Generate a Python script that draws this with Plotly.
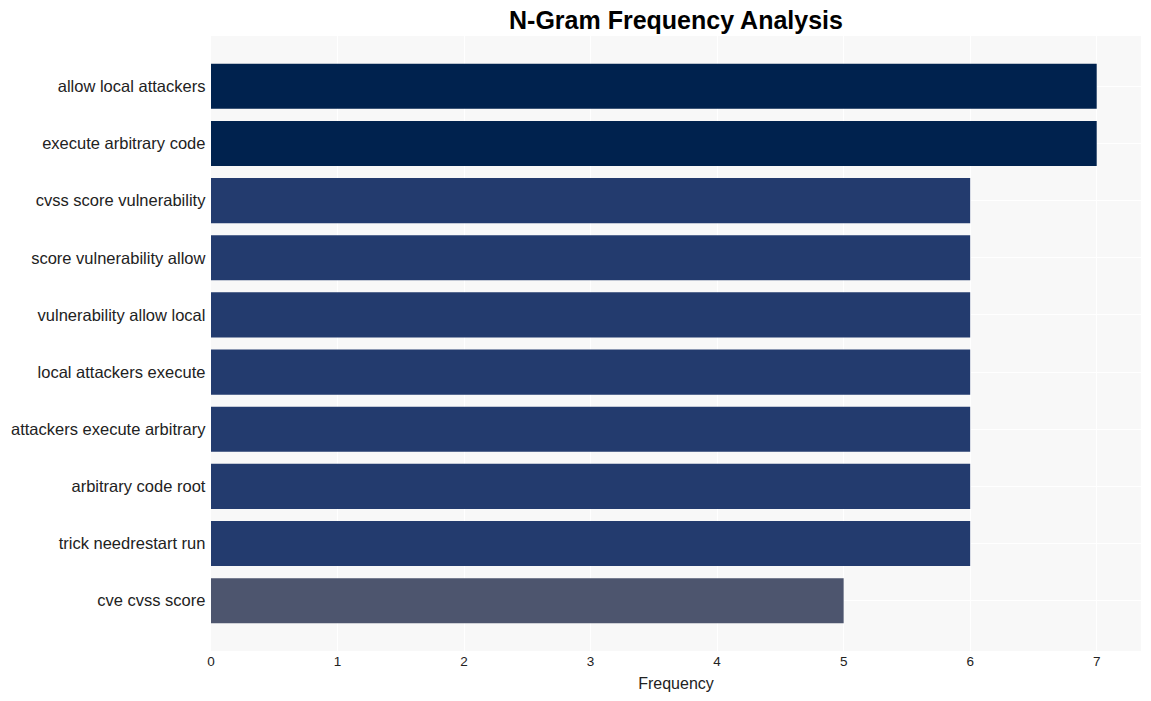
import plotly.graph_objects as go

ngrams = [
    "allow local attackers",
    "execute arbitrary code",
    "cvss score vulnerability",
    "score vulnerability allow",
    "vulnerability allow local",
    "local attackers execute",
    "attackers execute arbitrary",
    "arbitrary code root",
    "trick needrestart run",
    "cve cvss score",
]
frequency = [7, 7, 6, 6, 6, 6, 6, 6, 6, 5]
color_by_value = {7: "#00224e", 6: "#233b6e", 5: "#4d556e"}
colors = [color_by_value[v] for v in frequency]

fig = go.Figure(
    go.Bar(
        x=frequency,
        y=ngrams,
        orientation="h",
        width=0.79,
        marker=dict(color=colors, line=dict(width=0)),
    )
)

fig.update_layout(
    width=1151,
    height=701,
    margin=dict(l=211, r=10, t=36, b=50),
    paper_bgcolor="white",
    plot_bgcolor="#f8f8f8",
    title=dict(
        text="<b>N-Gram Frequency Analysis</b>",
        x=0.5,
        xref="paper",
        xanchor="center",
        y=0.971,
        yanchor="middle",
        font=dict(family="Arial, Liberation Sans", size=25, color="black"),
    ),
    font=dict(family="Arial, Liberation Sans", color="#222"),
    showlegend=False,
)
fig.update_xaxes(
    range=[0, 7.35],
    title=dict(text="Frequency", font=dict(size=16), standoff=10),
    tickfont=dict(size=13.5),
    gridcolor="white",
    gridwidth=1,
    zeroline=False,
    showline=False,
    ticks="",
    dtick=1,
)
fig.update_yaxes(
    range=[len(ngrams) - 1 + 0.88, -0.88],
    tickfont=dict(size=16.5),
    gridcolor="white",
    gridwidth=1,
    showline=False,
    ticks="",
    ticksuffix=" ",
)

fig.write_html("out.html")
